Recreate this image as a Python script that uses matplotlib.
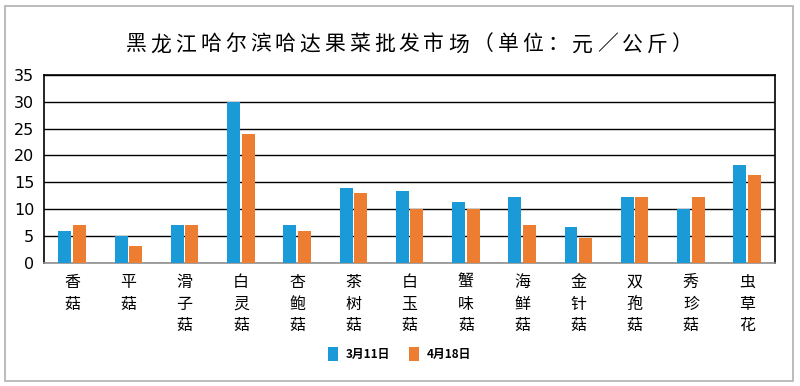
import matplotlib
matplotlib.use("Agg")
import matplotlib.pyplot as plt
from matplotlib.patches import Rectangle
import numpy as np

plt.rcParams["font.family"] = ["Noto Sans CJK SC", "DejaVu Sans"]

TITLE = "黑龙江哈尔滨哈达果菜批发市场（单位：元／公斤）"
categories = ["香菇", "平菇", "滑子菇", "白灵菇", "杏鲍菇", "茶树菇", "白玉菇",
              "蟹味菇", "海鲜菇", "金针菇", "双孢菇", "秀珍菇", "虫草花"]
mar11 = [6, 5, 7, 30, 7, 14, 13.3, 11.3, 12.3, 6.7, 12.3, 10, 18.2]
apr18 = [7, 3.2, 7, 24, 6, 13, 10, 10, 7, 4.6, 12.3, 12.3, 16.3]
series_names = ["3月11日", "4月18日"]
yticks = [0, 5, 10, 15, 20, 25, 30, 35]

BLUE = "#1a9ad6"
ORANGE = "#ed7d31"

fig = plt.figure(figsize=(8, 3.86), dpi=100)
fig.patches.append(Rectangle((0.006, 0.012), 0.985, 0.972, transform=fig.transFigure,
                             fill=False, edgecolor="#b0b0b0", lw=1.2))

ax = fig.add_axes([0.055, 0.319, 0.914, 0.487])
x = np.arange(len(categories))
w = 0.23
ax.bar(x - w / 2 - 0.015, mar11, w, color=BLUE, label=series_names[0], zorder=3)
ax.bar(x + w / 2 + 0.015, apr18, w, color=ORANGE, label=series_names[1], zorder=3)

ax.set_xlim(-0.5, len(categories) - 0.5)
ax.set_ylim(0, 35)
ax.set_yticks(yticks)
ax.set_yticklabels([str(t) for t in yticks], family="DejaVu Sans", fontsize=11.5)
ax.yaxis.grid(True, color="black", lw=1.0, zorder=0)
ax.set_axisbelow(True)
ax.tick_params(axis="y", length=0, pad=7)
ax.tick_params(axis="x", length=0, pad=8)
ax.set_xticks(x)
ax.set_xticklabels(["\n".join(c) for c in categories], fontsize=11.5, linespacing=1.35, va="top")
for s in ["top", "right", "left"]:
    ax.spines[s].set_color("black")
    ax.spines[s].set_linewidth(1.2)
ax.spines["bottom"].set_color("#909090")
ax.spines["bottom"].set_linewidth(1.2)

# title with wide letter spacing: one text per character
step = 24.8 / 800
x0 = 409 / 800 - step * (len(TITLE) - 1) / 2
for i, ch in enumerate(TITLE):
    fig.text(x0 + i * step, 0.885, ch, ha="center", va="center", fontsize=15, weight="medium")

leg = fig.legend(loc="center", bbox_to_anchor=(0.5, 0.083), ncol=2, frameon=False,
                 prop={"size": 8.5, "weight": "bold"}, handlelength=0.8, handleheight=1.4,
                 columnspacing=1.6, handletextpad=0.7)

fig.savefig("out.png", dpi=100)
